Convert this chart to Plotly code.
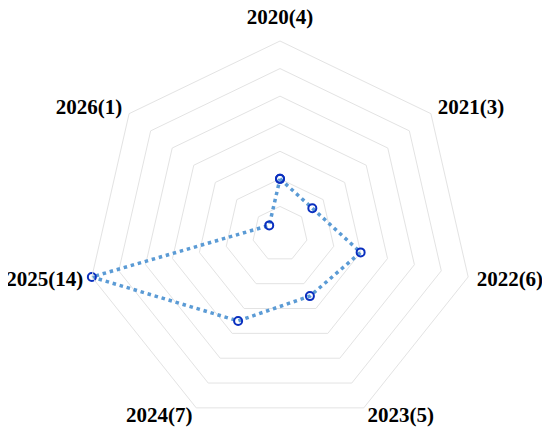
import plotly.graph_objects as go

categories = ["2020(4)", "2021(3)", "2022(6)", "2023(5)", "2024(7)", "2025(14)", "2026(1)"]
values = [4, 3, 6, 5, 7, 14, 1]

# vertical nudge (px, upward) of each category label, to match the reference's label placement
label_raise = [4, -3, 5, 16, 16, 5, -3]

tick_text = [f'<span style="baseline-shift:{s}px">{c}</span>' for c, s in zip(categories, label_raise)]

r_closed = values + values[:1]
theta_closed = categories + categories[:1]

fig = go.Figure()
fig.add_trace(go.Scatterpolar(
    r=r_closed, theta=theta_closed, mode="lines+markers",
    line=dict(color="#5b9bd5", width=3.5, dash="3.5px,3.8px"),
    marker=dict(symbol="circle-open", size=8, color="#0a2fbf", line=dict(width=2)),
    showlegend=False, hoverinfo="skip",
))

# page body has an 8px default margin; margins compensate for it
fig.update_layout(
    width=550, height=433,
    margin=dict(l=79, r=85, t=33, b=14),
    paper_bgcolor="white",
    polar=dict(
        bgcolor="white",
        gridshape="linear",
        radialaxis=dict(range=[0, 14], dtick=2, showticklabels=False, ticks="",
                        showline=False, gridcolor="#e3e3e3", gridwidth=1),
        angularaxis=dict(direction="clockwise", rotation=90, showgrid=False,
                         showline=True, linecolor="#e3e3e3", linewidth=1,
                         tickmode="array", tickvals=categories, ticktext=tick_text,
                         ticks="outside", ticklen=4, tickcolor="rgba(0,0,0,0)",
                         tickfont=dict(family="Liberation Serif", size=21, color="black", weight="bold")),
    ),
)

fig.write_html("out.html")
